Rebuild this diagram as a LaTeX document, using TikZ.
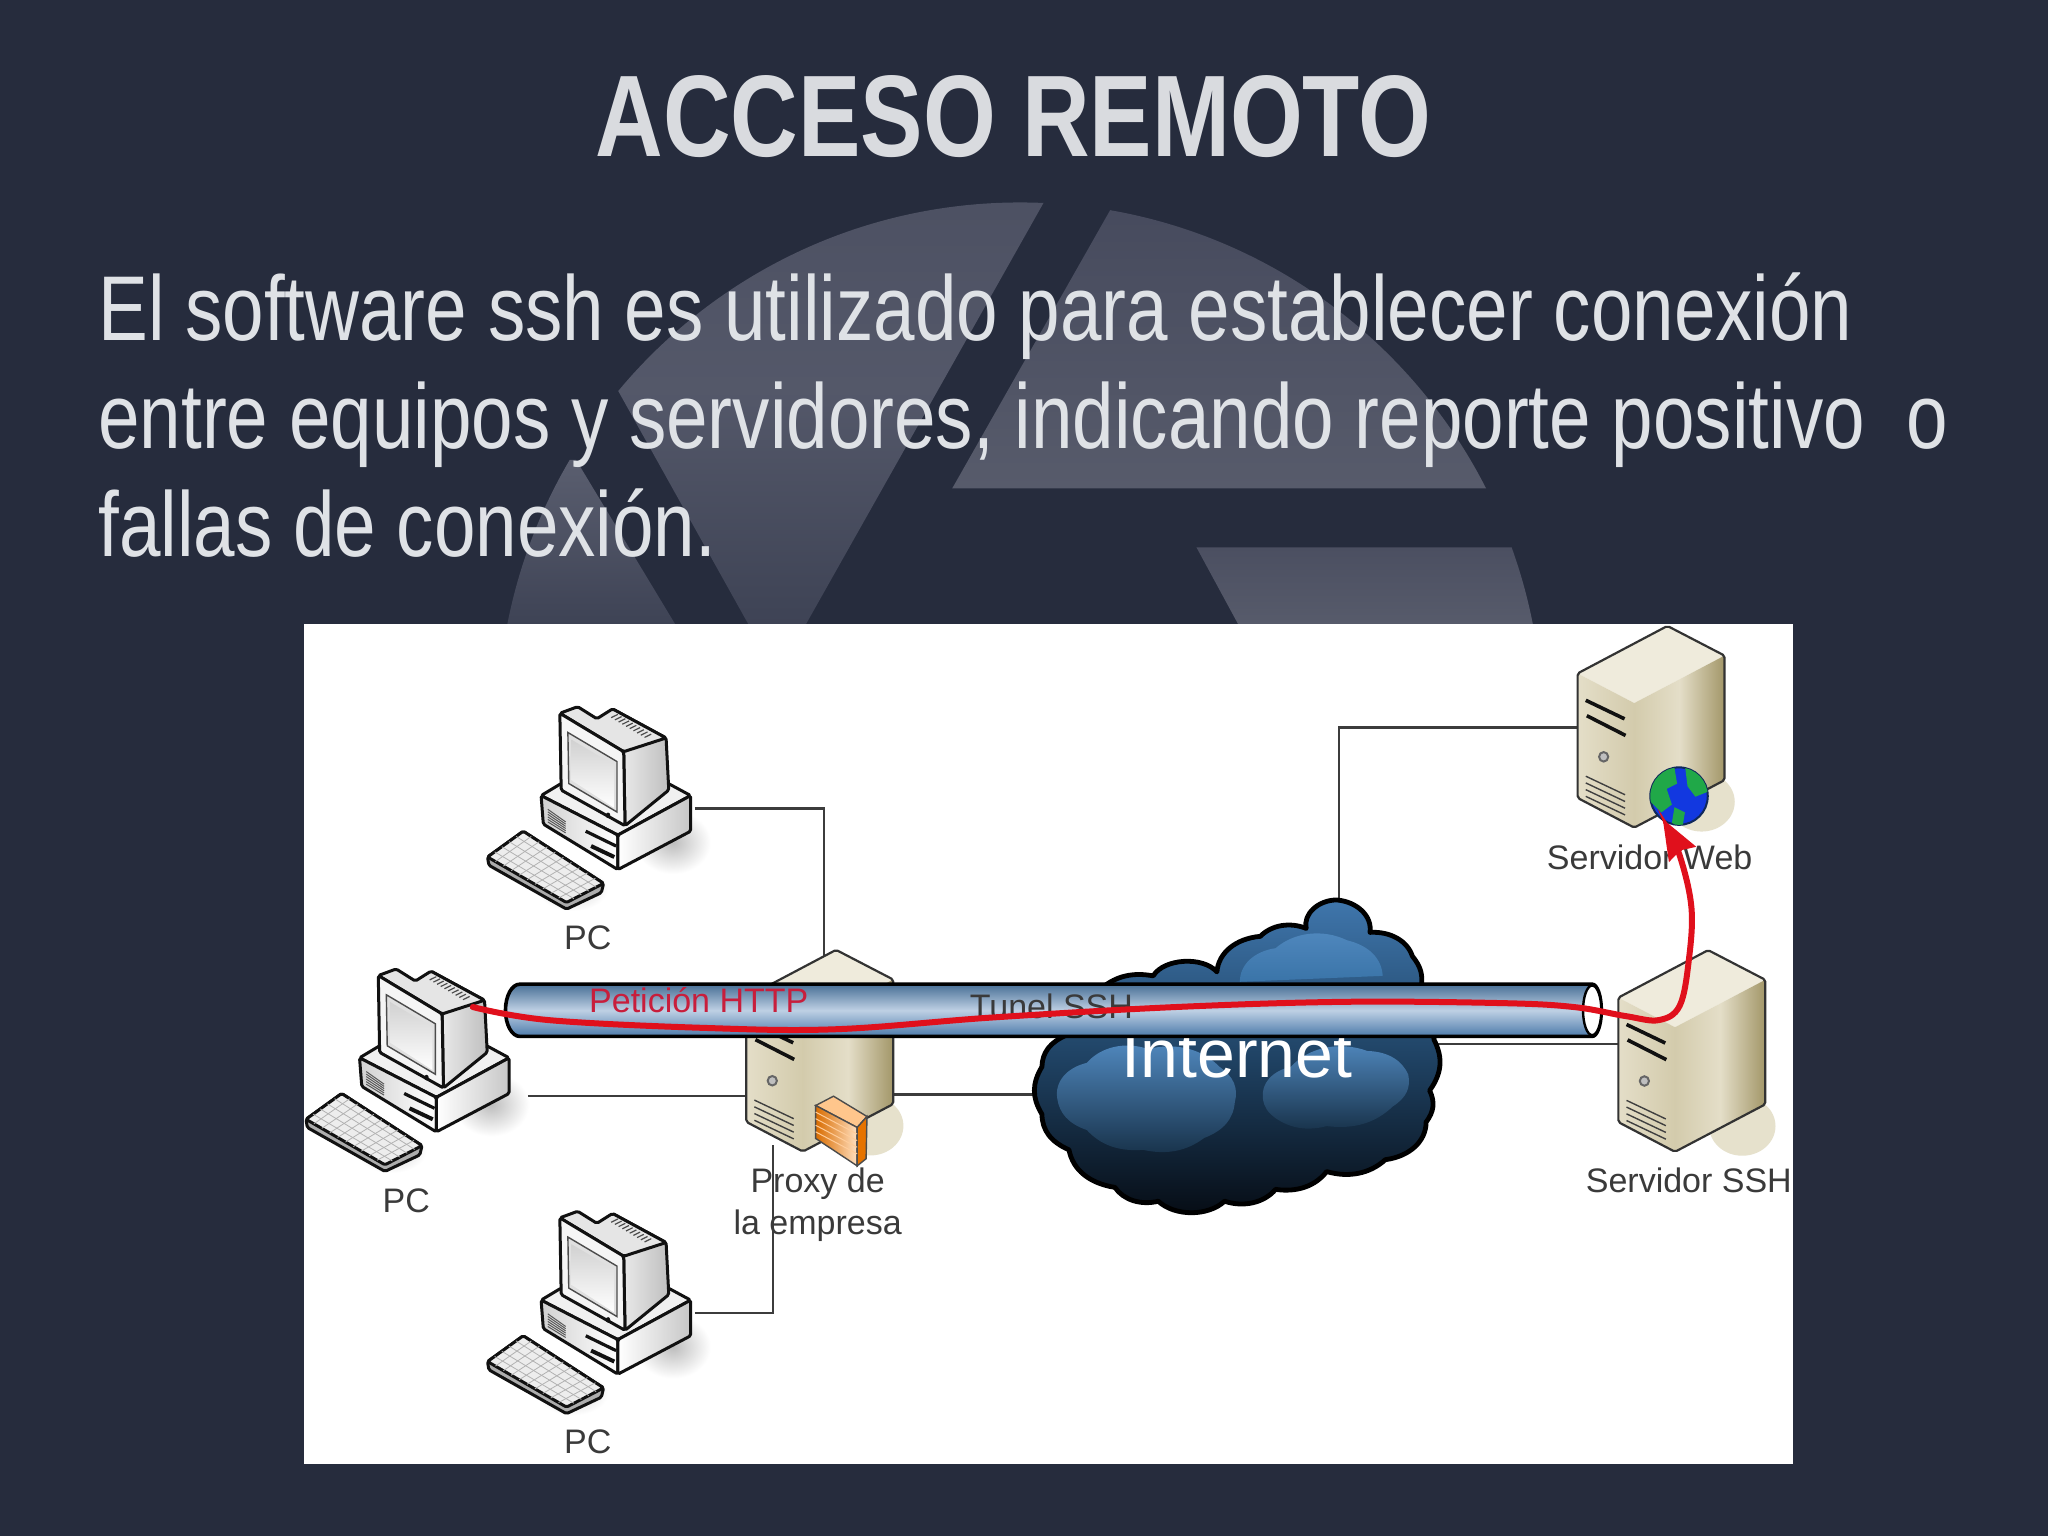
\documentclass[tikz,border=0pt]{standalone}
\usepackage{fontspec}
\usetikzlibrary{arrows.meta,calc,shapes.geometric}
\setmainfont{Liberation Sans}
\newfontfamily\titlefont[FakeStretch=0.807]{Liberation Sans Bold}
\newfontfamily\bodyfont[FakeStretch=0.811]{Liberation Sans}
\definecolor{bgc}{HTML}{262C3D}
\definecolor{wma}{HTML}{4B4F61}
\definecolor{wmb}{HTML}{3E4355}
\definecolor{wmc}{HTML}{5A5E6F}
\definecolor{wmd}{HTML}{464A5D}
\definecolor{wme}{HTML}{575B6B}
\definecolor{txtc}{HTML}{DFE2E6}
\definecolor{lblc}{HTML}{3A3A3A}
\definecolor{wirec}{HTML}{3C3C3C}
\definecolor{inkc}{HTML}{111111}
\definecolor{redc}{HTML}{E0101C}
\definecolor{srvtop}{HTML}{EFEBDC}
\definecolor{srvla}{HTML}{E4DEC8}
\definecolor{srvlb}{HTML}{D3CBAC}
\definecolor{srvra}{HTML}{D3CBAC}
\definecolor{srvrm}{HTML}{E4DEC8}
\definecolor{srvrb}{HTML}{A39769}
\definecolor{srvsh}{HTML}{E6E1CC}
\definecolor{tubea}{HTML}{486F96}
\definecolor{tubem}{HTML}{BED0E4}
\definecolor{tubeb}{HTML}{4C7AAA}
\definecolor{cla}{HTML}{3F76AC}
\definecolor{clm}{HTML}{1F4263}
\definecolor{clb}{HTML}{060C14}
\definecolor{puffa}{HTML}{5088BE}
\definecolor{puffb}{HTML}{18324A}
\definecolor{puffc}{HTML}{3A74A8}
\definecolor{globeb}{HTML}{1238E0}
\definecolor{globeg}{HTML}{20A848}
\tikzset{
  lbl/.style={font=\fontsize{17}{20}\selectfont,text=lblc,anchor=base,inner sep=0pt},
  wire/.style={draw=wirec,line width=1.1pt},
  ink/.style={draw=inkc,line width=1.5pt,line join=round,rounded corners=.8pt},
  pcicon/.pic={
    \begin{scope}[xscale=.3418,yscale=.42]
      \shade[inner color=black!26,outer color=white] (835,405) ellipse (85 and 58);
      \shade[inner color=black!18,outer color=white] (610,490) ellipse (80 and 40);
      % base
      \path[ink,fill=black!6] (540,320) -- (585,298) -- (825,298) -- (875,320) -- (712,392) -- cycle;
      \path[ink,left color=black!18,right color=white] (540,320) -- (712,392) -- (712,455) -- (545,372) -- cycle;
      \path[ink,left color=white,right color=black!22] (712,392) -- (875,320) -- (875,385) -- (712,455) -- cycle;
      \foreach \t in {0,.2,.4,.6,.8,1}
        \draw[black!65,line width=.5pt] ($(555,345)!\t!(555,368)$) -- ($(595,368)!\t!(595,388)$);
      \draw[inkc,line width=1.6pt] (640,385) -- (708,412);
      \draw[inkc,line width=2pt] (652,412) -- (704,432);
      % monitor
      \path[ink,left color=black!5,right color=black!25] (725,240) -- (700,162) -- (820,215) -- (826,310) -- (728,375) -- cycle;
      \path[ink,fill=black!10] (582,170) -- (622,158) -- (665,180) -- (700,162) -- (820,215) -- (725,240) -- cycle;
      \path[ink,fill=black!4] (582,170) -- (725,240) -- (728,375) -- (585,310) -- cycle;
      \path[draw=black!70,line width=.7pt,fill=black!12] (600,205) -- (710,258) -- (710,350) -- (602,298) -- cycle;
      \path[top color=black!18,bottom color=white,draw=none] (608,218) -- (703,264) -- (703,342) -- (608,292) -- cycle;
      \foreach \t in {0,.1,...,1}
        \draw[black!70,line width=.6pt] ($(697,178)!\t!(780,218)$) -- ($(712,172)!\t!(795,212)$);
      \fill[inkc] (690,356) circle (5);
      % keyboard
      \path[ink,fill=black!32] (420,432) -- (500,385) -- (680,480) -- (675,497) -- (597,527) -- (423,447) -- cycle;
      \path[ink,fill=black!7] (420,432) -- (500,385) -- (680,480) -- (597,515) -- cycle;
      \foreach \t in {.2,.4,.6,.8}
        \draw[black!30,line width=.4pt] ($(420,432)!\t!(500,385)$) -- ($(597,515)!\t!(680,480)$);
      \foreach \t in {.1,.2,...,.9}
        \draw[black!30,line width=.4pt] ($(420,432)!\t!(597,515)$) -- ($(500,385)!\t!(680,480)$);
    \end{scope}
  },
  srvicon/.pic={
    \begin{scope}[xscale=.3906,yscale=.3027]
      \fill[srvsh] (1375,460) ellipse (65 and 75);
      \fill[srvtop] (1132,135) -- (1308,15) -- (1420,90) -- (1243,210) -- cycle;
      \shade[left color=srvla,right color=srvlb] (1132,135) -- (1243,210) -- (1243,525) -- (1132,450) -- cycle;
      \shade[left color=srvra,right color=srvrb,middle color=srvrm] (1243,210) -- (1420,90) -- (1420,405) -- (1243,525) -- cycle;
      \draw[black!80,line width=1.1pt,line join=round,rounded corners=1pt] (1132,135) -- (1308,15) -- (1420,90) -- (1420,405) -- (1243,525) -- (1132,450) -- cycle;
      \draw[inkc,line width=1.8pt] (1148,203) -- (1224,250);
      \draw[inkc,line width=1.8pt] (1150,242) -- (1226,292);
      \draw[black!60,line width=1pt,fill=black!25] (1183,346) ellipse (9 and 12);
      \foreach \d in {0,17,34,51}
        \draw[black!75,line width=.7pt] (1148,395+\d) -- (1225,442+\d);
    \end{scope}
  }
}
\begin{document}
\begin{tikzpicture}[x=0.65306pt,y=-0.65306pt]
\useasboundingbox (0,0) rectangle (1568,1176);
\fill[bgc] (0,0) rectangle (1568,1176);
% watermark logo
\begin{scope}
  \clip (0,0) rectangle (1568,478);
  \clip (781,555) circle (400);
  \shade[top color=wma,bottom color=wmb,middle color=wmc!60!wma] (617,478) -- (820,118) -- (419,118) -- (419,202) -- (573,478) -- cycle;
  \shade[top color=wmc,bottom color=wmb] (441,352) -- (517,478) -- (360,478) -- (360,352) -- cycle;
  \shade[top color=wmd,bottom color=wme] (729,374) -- (855,152) -- (1200,152) -- (1200,374) -- cycle;
  \shade[top color=wma,bottom color=wme] (916,419) -- (1200,419) -- (1200,478) -- (948,478) -- cycle;
\end{scope}
% title and body
\node[font=\fontsize{58}{64}\titlefont,text={rgb,255:red,217;green,219;blue,223},anchor=base,inner sep=0pt] (title) at (776,120) {ACCESO REMOTO};
\node[font=\fontsize{46}{54}\bodyfont,text=txtc,anchor=base west,inner sep=0pt,align=left] (body) at (75,426)
  {El software ssh es utilizado para establecer conexión\\entre equipos y servidores, indicando reporte positivo\ \ o\\fallas de conexión.};
% image panel
\fill[white] (233,478) rectangle (1373,1121);
% anchors
\coordinate (pcTopE) at (532,619);
\coordinate (pcTopBend) at (631,619);
\coordinate (proxyTop) at (631,732);
\coordinate (pcLeftE) at (404,839);
\coordinate (proxyW) at (573,839);
\coordinate (pcBotE) at (532,1005);
\coordinate (pcBotBend) at (592,1005);
\coordinate (proxyS) at (592,877);
\coordinate (proxyE) at (683,838);
\coordinate (cloudW) at (792,838);
\coordinate (cloudN) at (1025,692);
\coordinate (webBend) at (1025,557);
\coordinate (webW) at (1208,557);
\coordinate (cloudE) at (1100,799);
\coordinate (sshW) at (1240,799);
\coordinate (reqStart) at (362,771);
\coordinate (reqEnd) at (1273,627);
% connectors
\draw[wire] (pcTopE) -- (pcTopBend) -- (proxyTop);
\draw[wire] (pcLeftE) -- (proxyW);
\draw[wire] (proxyE) -- (cloudW);
\draw[wire] (cloudN) -- (webBend) -- (webW);
\draw[wire] (cloudE) -- (sshW);
% computers and servers
\pic (pcTop) at (229.7,474.7) {pcicon};
\pic (pcLeft) at (90.7,675.5) {pcicon};
\pic (pcBot) at (229.7,861) {pcicon};
\pic (srvProxy) at (129.2,722.7) {srvicon};
\pic (srvWeb) at (765.7,474.7) {srvicon};
\pic (srvSSH) at (796.9,722.9) {srvicon};
\draw[wire] (pcBotE) -- (pcBotBend) -- (proxyS);
% firewall on proxy
\begin{scope}[shift={(229.7,474.7)},xscale=.3418,yscale=.42]
  \path[draw=black!70,line width=.7pt,fill=orange!45!white] (1155,885) -- (1195,868) -- (1270,905) -- (1248,925) -- cycle;
  \path[draw=black!70,line width=.7pt,left color=orange!85!black,right color=orange!25!white] (1155,885) -- (1248,925) -- (1248,995) -- (1155,945) -- cycle;
  \path[draw=black!70,line width=.7pt,fill=orange!90!black] (1248,925) -- (1270,905) -- (1268,982) -- (1248,995) -- cycle;
  \foreach \d in {12,24,36,48}
    \draw[white!60!orange,line width=.5pt] (1155,885+\d) -- (1248,925+\d);
\end{scope}
% globe
\begin{scope}
  \node[circle,draw={rgb,255:red,16;green,40;blue,90},line width=1pt,fill=globeb,minimum size=44*0.65306pt,inner sep=0pt] (globe) at (1285.5,609.5) {};
  \clip (1285.5,609.5) circle (22);
  \fill[globeg] (1265,590) -- (1282,588) -- (1284,600) -- (1276,604) -- (1280,616) -- (1272,622) -- (1262,612) -- cycle;
  \fill[globeg] (1290,586) -- (1306,594) -- (1308,606) -- (1298,610) -- (1292,602) -- cycle;
  \fill[globeg] (1282,618) -- (1290,622) -- (1288,634) -- (1280,630) -- cycle;
\end{scope}
% cloud
\begin{scope}[shift={(765.7,474.7)},xscale=.3906,yscale=.3027]
  \path[draw=black,line width=2.4pt,line join=round,top color=cla,bottom color=clb,middle color=clm]
    (660,708) to[bend left=45] (725,790) to[bend left=40] (808,850) to[bend left=20] (825,930)
    to[bend left=25] (850,1060) to[bend left=25] (842,1190) to[bend left=25] (835,1270)
    to[bend left=40] (755,1365) to[bend left=35] (640,1395) to[bend left=35] (540,1440)
    to[bend left=40] (440,1470) to[bend left=50] (310,1470) to[bend left=40] (225,1435)
    to[bend left=35] (135,1340) to[bend left=30] (82,1250) to[bend left=25] (82,1130)
    to[bend left=30] (130,1050) to[bend left=30] (200,930) to[bend left=30] (300,900)
    to[bend left=60] (425,890) to[bend left=40] (510,800) to[bend left=40] (600,780)
    to[bend left=50] (660,708) -- cycle;
  \path[top color=puffa,bottom color=puffb] (112,1210) to[bend left=40] (170,1120) to[bend left=40] (290,1085) to[bend left=35] (430,1130) to[bend left=30] (460,1220) to[bend left=30] (400,1310) to[bend left=30] (280,1340) to[bend left=30] (170,1290) to[bend left=30] (112,1210) -- cycle;
  \path[top color=puffa,bottom color=puffb] (515,1210) to[bend left=40] (570,1130) to[bend left=40] (720,1090) to[bend left=35] (800,1150) to[bend left=30] (770,1230) to[bend left=30] (640,1280) to[bend left=30] (540,1260) to[bend left=20] (515,1210) -- cycle;
  \path[top color=puffa,bottom color=puffc] (470,915) to[bend left=40] (540,830) to[bend left=40] (680,810) to[bend left=35] (750,900) -- cycle;
\end{scope}
\node[font=\fontsize{34}{40}\selectfont,text=white,anchor=base,inner sep=0pt] (inetLbl) at (947,825) {Internet};
% tube
\path[draw=black,line width=1.8pt,top color=tubea,bottom color=tubeb,middle color=tubem]
  (398,753.5) -- (1219,753.5) arc[start angle=-90,end angle=90,x radius=7,y radius=20] -- (398,793.5) arc[start angle=90,end angle=270,x radius=11,y radius=20] -- cycle;
\node[ellipse,draw=black,line width=1.2pt,fill=white,minimum width=14*0.65306pt,minimum height=38*0.65306pt,inner sep=0pt] (tubeEnd) at (1219,773.5) {};
\node[lbl,text={rgb,255:red,200;green,30;blue,60}] (reqLbl) at (535,775) {Petición HTTP};
\node[lbl] (tunLbl) at (805,780) {Tunel SSH};
% labels
\node[lbl] (l1) at (450,727) {PC};
\node[lbl] (l2) at (311,928) {PC};
\node[lbl] (l3) at (450,1113) {PC};
\node[lbl] (l4) at (626,913) {Proxy de};
\node[lbl] (l5) at (626,945) {la empresa};
\node[lbl] (l6) at (1263,666) {Servidor Web};
\node[lbl] (l7) at (1293,913) {Servidor SSH};
% request path
\draw[redc,line width=3pt,line cap=round,-{Stealth[length=20pt,width=15pt,inset=2pt]}] plot[smooth,tension=.6] coordinates {(reqStart) (420,781) (540,787) (640,788) (760,779) (900,771) (1030,767) (1150,768) (1205,771) (1245,778) (1270,781) (1286,770) (1293,735) (1295,695) (1286,655) (reqEnd)};
\end{tikzpicture}
\end{document}
